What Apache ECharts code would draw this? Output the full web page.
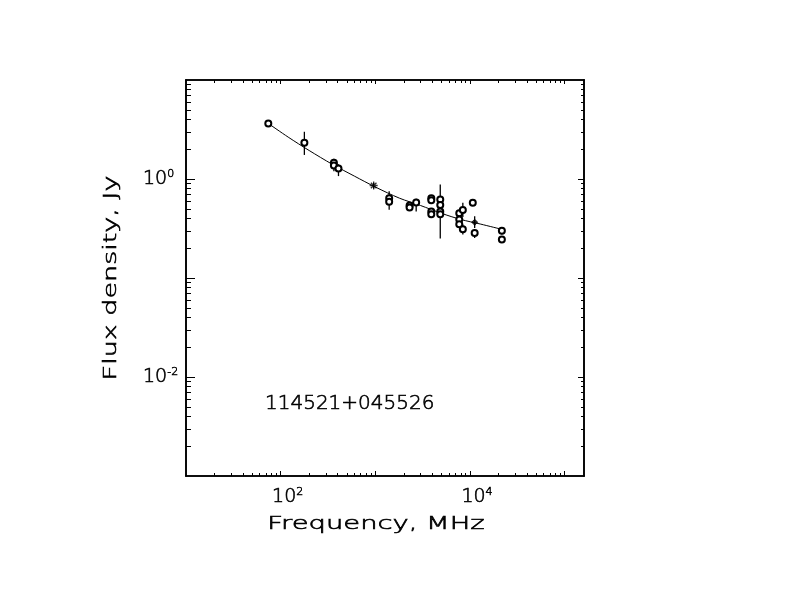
<!DOCTYPE html>
<html>
<head>
<meta charset="utf-8">
<title>114521+045526</title>
<script src="https://cdn.jsdelivr.net/npm/echarts@6/dist/echarts.min.js"></script>
<style>
html, body { margin: 0; padding: 0; background: #fff; }
#chart { width: 792px; height: 612px; }
</style>
</head>
<body>
<div id="chart"></div>
<script>
// source spectrum, frequency in MHz, flux density in Jy
var circFreq = [74, 178, 365, 365, 408, 1400, 1400, 2300, 2300, 2700, 3900, 3900, 3900, 3900,
                4850, 4850, 4850, 4850, 7700, 7700, 7700, 8400, 8400, 10700, 11200, 21700, 21700];
var circFlux = [3.64, 2.32, 1.46, 1.37, 1.28, 0.64, 0.59, 0.54, 0.515, 0.58, 0.64, 0.61, 0.47, 0.44,
                0.62, 0.545, 0.47, 0.44, 0.45, 0.39, 0.35, 0.485, 0.31, 0.575, 0.285, 0.30, 0.245];
var circLo   = [3.4, 1.75, 1.3, 1.2, 1.07, 0.6, 0.49, 0.52, 0.49, 0.47, 0.62, 0.58, 0.45, 0.42,
                0.59, null, 0.25, 0.42, 0.405, 0.37, 0.33, 0.414, 0.275, null, 0.254, 0.275, 0.226];
var circHi   = [3.9, 3.0, 1.6, 1.5, 1.41, 0.75, 0.62, 0.57, 0.54, 0.63, 0.67, 0.64, 0.49, 0.46,
                0.65, null, 0.88, 0.46, 0.49, 0.41, 0.37, 0.575, 0.347, null, 0.309, 0.328, 0.264];

var starFreq = [960];
var starFlux = [0.86];
var starLo   = [0.804];
var starHi   = [0.917];

var dotFreq = [11200];
var dotFlux = [0.366];
var dotLo   = [0.32];
var dotHi   = [0.421];

// fitted spectrum
var fitFreq = [74, 120, 200, 350, 600, 1000, 1800, 3000, 5000, 8000, 13000, 21700];
var fitFlux = [3.64, 2.65, 1.94, 1.41, 1.07, 0.83, 0.64, 0.54, 0.45, 0.39, 0.35, 0.31];

// axes
var xRange = [10, 160000];
var yRange = [0.001, 10];
var xMajorTicks = [100, 1000, 10000, 100000];
var xLabelTicks = [100, 10000];
var yMajorTicks = [0.01, 0.1, 1];
var yLabelTicks = [0.01, 1];

function minorTicks(lo, hi) {
    var out = [];
    for (var d = Math.floor(Math.log10(lo)); d <= Math.ceil(Math.log10(hi)); d++) {
        for (var k = 2; k <= 9; k++) {
            var v = k * Math.pow(10, d);
            if (v > lo && v < hi) out.push(v);
        }
    }
    return out;
}
var xMinorTicks = minorTicks(xRange[0], xRange[1]);
var yMinorTicks = minorTicks(yRange[0], yRange[1]);

var FONT = 'DejaVu Sans';
var rich = {
    b: { fontFamily: FONT, fontSize: 19, fontWeight: 200, color: '#000', lineHeight: 20,
         textBorderColor: '#000', textBorderWidth: 0.6 },
    s: { fontFamily: FONT, fontSize: 11, fontWeight: 200, color: '#000', lineHeight: 11, verticalAlign: 'top',
         textBorderColor: '#000', textBorderWidth: 0.5 }
};
function powLabel(v) {
    return '{b|10}{s|' + Math.round(Math.log10(v)) + '}';
}

function logAxis(dim, pos, ticks, len, labels) {
    var range = dim === 'x' ? xRange : yRange;
    var ax = {
        type: 'log',
        logBase: 10,
        min: range[0],
        max: range[1],
        position: pos,
        axisLine: { show: true, onZero: false, lineStyle: { color: '#000', width: 1.6 } },
        axisTick: { show: true, inside: true, length: len, customValues: ticks,
                    lineStyle: { color: '#000', width: 1 } },
        axisLabel: { show: false },
        splitLine: { show: false },
        minorTick: { show: false },
        minorSplitLine: { show: false }
    };
    if (labels) {
        ax.axisLabel = {
            show: true,
            customValues: labels,
            formatter: powLabel,
            rich: rich
        };
        if (dim === 'x') {
            ax.axisLabel.margin = 11;
            ax.axisLabel.padding = [0, 0, 0, 14];
        } else {
            ax.axisLabel.margin = 43;
            ax.axisLabel.align = 'left';
        }
    }
    return ax;
}

function errPairs(f, lo, hi) {
    var out = [];
    for (var i = 0; i < f.length; i++) {
        if (lo[i] != null && hi[i] != null) out.push([f[i], lo[i], hi[i]]);
    }
    return out;
}
var errData = errPairs(circFreq, circLo, circHi)
    .concat(errPairs(starFreq, starLo, starHi))
    .concat(errPairs(dotFreq, dotLo, dotHi));

function zip(a, b) {
    return a.map(function (v, i) { return [v, b[i]]; });
}

function titleText(text, x, y, size, extra) {
    var el = {
        type: 'text', x: x, y: y,
        style: { text: text, fontFamily: FONT, fontSize: size, fontWeight: 200, fill: '#000',
                 stroke: '#000', lineWidth: 0.6,
                 align: 'center', verticalAlign: 'middle', textAlign: 'center', textVerticalAlign: 'middle' }
    };
    for (var k in extra) el[k] = extra[k];
    return el;
}
var leftLabel = titleText('114521+045526', 265, 404, 20, {});
leftLabel.style.align = 'left';
leftLabel.style.textAlign = 'left';

var chart = echarts.init(document.getElementById('chart'));
chart.setOption({
    animation: false,
    backgroundColor: '#fff',
    grid: { left: 186, top: 80, width: 398, height: 396 },
    xAxis: [
        logAxis('x', 'bottom', xMajorTicks, 5, xLabelTicks),
        logAxis('x', 'bottom', xMinorTicks, 3, null),
        logAxis('x', 'top', xMajorTicks, 4, null),
        logAxis('x', 'top', xMinorTicks, 3, null)
    ],
    yAxis: [
        logAxis('y', 'left', yMajorTicks, 9, yLabelTicks),
        logAxis('y', 'left', yMinorTicks, 5, null),
        logAxis('y', 'right', yMajorTicks, 6, null),
        logAxis('y', 'right', yMinorTicks, 3, null)
    ],
    graphic: [
        titleText('Frequency, MHz', 376, 524, 18, { scaleX: 1.52 }),
        titleText('Flux density, Jy', 111, 278, 18, { rotation: Math.PI / 2, scaleX: 1.5 }),
        leftLabel
    ],
    series: [
        {
            type: 'custom',
            z: 2,
            data: errData,
            encode: { x: 0, y: [1, 2] },
            renderItem: function (params, api) {
                var p1 = api.coord([api.value(0), api.value(1)]);
                var p2 = api.coord([api.value(0), api.value(2)]);
                return {
                    type: 'line',
                    shape: { x1: p1[0], y1: p1[1], x2: p2[0], y2: p2[1] },
                    style: { stroke: '#000', lineWidth: 1.3 }
                };
            }
        },
        {
            type: 'line',
            z: 3,
            data: zip(fitFreq, fitFlux),
            smooth: 0.3,
            showSymbol: false,
            lineStyle: { color: '#000', width: 1 }
        },
        {
            type: 'scatter',
            z: 4,
            data: zip(circFreq, circFlux),
            symbol: 'circle',
            symbolSize: 6,
            itemStyle: { color: '#fff', borderColor: '#000', borderWidth: 2, opacity: 1 }
        },
        {
            type: 'scatter',
            z: 4,
            data: zip(starFreq, starFlux),
            symbol: 'path://M0,5L10,5M5,0L5,10M1.5,1.5L8.5,8.5M8.5,1.5L1.5,8.5',
            symbolSize: 8,
            itemStyle: { color: 'none', borderColor: '#000', borderWidth: 1.3 }
        },
        {
            type: 'scatter',
            z: 4,
            data: zip(dotFreq, dotFlux),
            symbol: 'diamond',
            symbolSize: 6,
            itemStyle: { color: '#000', borderColor: '#000', borderWidth: 1 }
        }
    ]
});
</script>
</body>
</html>
